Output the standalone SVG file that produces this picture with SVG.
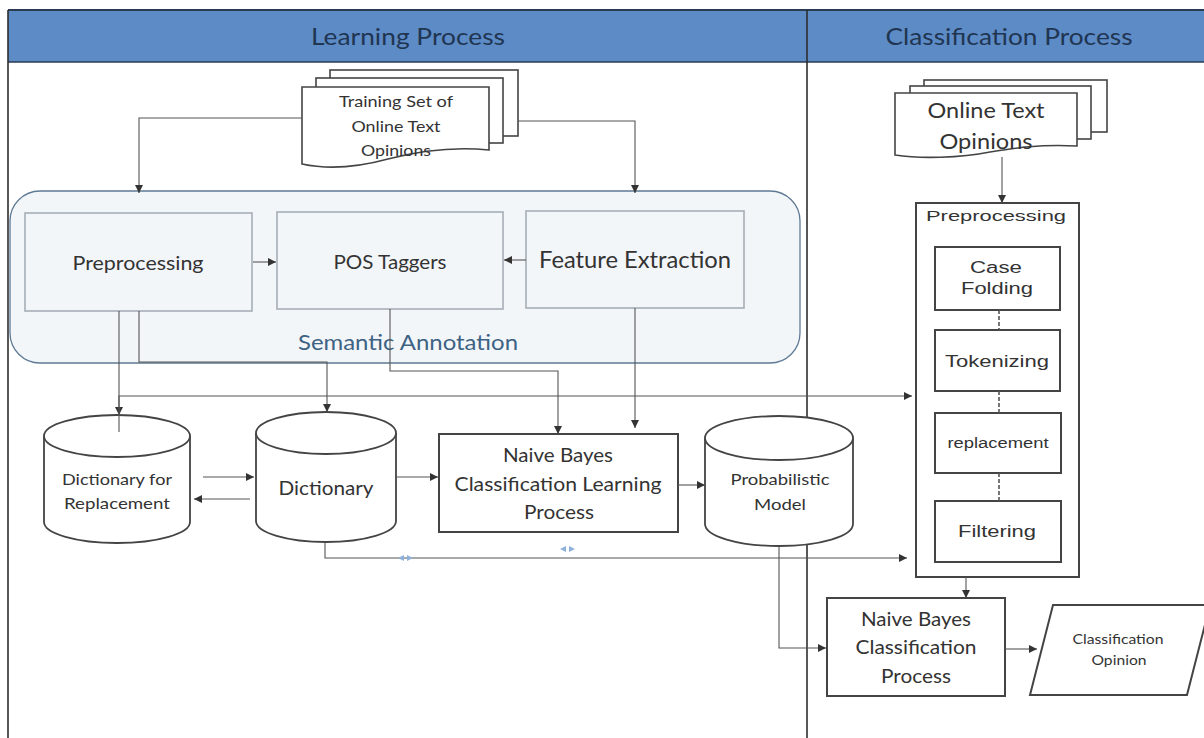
<svg xmlns="http://www.w3.org/2000/svg" width="1204" height="738" viewBox="0 0 1204 738">
  <defs>
    <marker id="arr" viewBox="0 0 10 10" refX="10" refY="5" markerWidth="8" markerHeight="8" markerUnits="userSpaceOnUse" orient="auto">
      <path d="M0,0 L10,5 L0,10 Z" fill="#333"/>
    </marker>
    <style>
      .cal { font-family: Lato, "Open Sans", "Liberation Sans", sans-serif; fill: #333; text-anchor: middle; }
      .ari { font-family: "Liberation Sans", Arial, sans-serif; fill: #333; text-anchor: middle; }
      .lane { stroke: #2e2e2e; stroke-width: 1.6; fill: none; }
      .sbox { fill: #f3f6f9; stroke: #a6aeb7; stroke-width: 1.6; }
      .box { fill: #ffffff; stroke: #444; stroke-width: 2; }
      .doc { fill: #ffffff; stroke: #444; stroke-width: 1.6; }
      .cyl { fill: #ffffff; stroke: #444; stroke-width: 1.8; }
      .con { fill: none; stroke: #555; stroke-width: 1.1; }
      .dash { fill: none; stroke: #555; stroke-width: 1.6; stroke-dasharray: 4 2; }
      .tick { fill: #8fb0d8; }
    </style>
  </defs>

  <rect x="0" y="0" width="1204" height="738" fill="#ffffff"/>

  <!-- swimlane headers and frame -->
  <g id="lanes">
    <rect x="8" y="10" width="1196" height="52" fill="#5d8bc6"/>
    <line x1="8" y1="10" x2="1204" y2="10" stroke="#2b3b52" stroke-width="2"/>
    <line x1="8" y1="62" x2="1204" y2="62" stroke="#2b3b52" stroke-width="1.5"/>
    <line class="lane" x1="8" y1="10" x2="8" y2="738"/>
    <line class="lane" x1="807" y1="10" x2="807" y2="738"/>
    <text class="cal" x="408" y="45" font-size="24" fill="#1f3552" style="fill:#1f3552" textLength="194" lengthAdjust="spacingAndGlyphs">Learning Process</text>
    <text class="cal" x="1009" y="45" font-size="24" style="fill:#1f3552" textLength="247" lengthAdjust="spacingAndGlyphs">Classification Process</text>
  </g>

  <!-- semantic annotation container -->
  <g id="semantic-annotation">
    <rect x="10" y="191" width="790" height="172" rx="30" ry="30" fill="#f3f6f9" stroke="#5f7a94" stroke-width="1.3"/>
    <text class="cal" x="408" y="350" font-size="21" style="fill:#3d6284" textLength="220" lengthAdjust="spacingAndGlyphs">Semantic Annotation</text>
  </g>

  <g id="preprocessing-learn">
    <rect class="sbox" x="25" y="213" width="227" height="98"/>
    <text class="cal" x="138" y="270" font-size="19" textLength="131" lengthAdjust="spacingAndGlyphs">Preprocessing</text>
  </g>

  <g id="pos-taggers">
    <rect class="sbox" x="277" y="212" width="226" height="97"/>
    <text class="cal" x="390" y="269" font-size="19" textLength="113" lengthAdjust="spacingAndGlyphs">POS Taggers</text>
  </g>

  <g id="feature-extraction">
    <rect class="sbox" x="526" y="211" width="218" height="97"/>
    <text class="cal" x="635" y="268" font-size="23" textLength="192" lengthAdjust="spacingAndGlyphs">Feature Extraction</text>
  </g>

  <!-- stacked documents: training set -->
  <g id="training-set">
    <rect class="doc" x="330" y="70" width="188" height="66"/>
    <rect class="doc" x="316" y="78" width="187" height="65"/>
    <path class="doc" d="M302,87 H489 V150 C450,146 415,152 388,159 C355,168 325,169 302,164 Z"/>
    <text class="cal" x="396" y="107" font-size="16" textLength="114" lengthAdjust="spacingAndGlyphs">Training Set of</text>
    <text class="cal" x="396" y="132" font-size="16" textLength="89" lengthAdjust="spacingAndGlyphs">Online Text</text>
    <text class="cal" x="396" y="156" font-size="16" textLength="70" lengthAdjust="spacingAndGlyphs">Opinions</text>
  </g>

  <!-- stacked documents: online opinions -->
  <g id="online-opinions">
    <rect class="doc" x="924" y="80" width="183" height="52"/>
    <rect class="doc" x="910" y="86" width="181" height="53"/>
    <path class="doc" d="M895,93 H1077 V146 C1040,144 1015,148 990,152 C960,158 920,159 895,155 Z"/>
    <text class="cal" x="986" y="118" font-size="22" textLength="117" lengthAdjust="spacingAndGlyphs">Online Text</text>
    <text class="cal" x="986" y="149" font-size="22" textLength="93" lengthAdjust="spacingAndGlyphs">Opinions</text>
  </g>

  <g id="dictionary-replacement">
    <path class="cyl" d="M44,436 A73,21 0 0 1 190,436 V522 A73,21 0 0 1 44,522 Z"/>
    <path class="cyl" d="M44,436 A73,21 0 0 0 190,436" fill="none"/>
    <text class="cal" x="117" y="485" font-size="16" textLength="110" lengthAdjust="spacingAndGlyphs">Dictionary for</text>
    <text class="cal" x="117" y="509" font-size="16" textLength="106" lengthAdjust="spacingAndGlyphs">Replacement</text>
  </g>

  <g id="dictionary">
    <path class="cyl" d="M256,433 A70,21 0 0 1 396,433 V521 A70,21 0 0 1 256,521 Z"/>
    <path class="cyl" d="M256,433 A70,21 0 0 0 396,433" fill="none"/>
    <text class="cal" x="326" y="495" font-size="19" textLength="95" lengthAdjust="spacingAndGlyphs">Dictionary</text>
  </g>

  <g id="nb-learning">
    <rect class="box" x="439" y="434" width="239" height="98"/>
    <text class="cal" x="558" y="462" font-size="19" textLength="110" lengthAdjust="spacingAndGlyphs">Naive Bayes</text>
    <text class="cal" x="558" y="491" font-size="19" textLength="207" lengthAdjust="spacingAndGlyphs">Classification Learning</text>
    <text class="cal" x="559" y="519" font-size="19" textLength="70" lengthAdjust="spacingAndGlyphs">Process</text>
  </g>

  <g id="probabilistic-model">
    <path class="cyl" d="M705,438 A74,22 0 0 1 853,438 V524 A74,22 0 0 1 705,524 Z"/>
    <path class="cyl" d="M705,438 A74,22 0 0 0 853,438" fill="none"/>
    <text class="cal" x="780" y="485" font-size="16" textLength="99" lengthAdjust="spacingAndGlyphs">Probabilistic</text>
    <text class="cal" x="780" y="510" font-size="16" textLength="52" lengthAdjust="spacingAndGlyphs">Model</text>
  </g>

  <!-- preprocessing pipeline of the classification side -->
  <g id="preprocessing-classify">
    <rect class="box" x="916" y="203" width="163" height="374"/>
    <text class="ari" x="996" y="221" font-size="15" textLength="140" lengthAdjust="spacingAndGlyphs">Preprocessing</text>
  </g>
  <g id="case-folding">
    <rect class="box" x="935" y="247" width="125" height="63"/>
    <text class="ari" x="996" y="273" font-size="16" textLength="52" lengthAdjust="spacingAndGlyphs">Case</text>
    <text class="ari" x="997" y="294" font-size="16" textLength="72" lengthAdjust="spacingAndGlyphs">Folding</text>
  </g>
  <g id="tokenizing">
    <rect class="box" x="935" y="330" width="125" height="61"/>
    <text class="ari" x="997" y="367" font-size="16" textLength="104" lengthAdjust="spacingAndGlyphs">Tokenizing</text>
  </g>
  <g id="replacement">
    <rect class="box" x="935" y="413" width="126" height="60"/>
    <text class="ari" x="998" y="448" font-size="14" textLength="101" lengthAdjust="spacingAndGlyphs">replacement</text>
  </g>
  <g id="filtering">
    <rect class="box" x="935" y="501" width="126" height="61"/>
    <text class="ari" x="997" y="537" font-size="16" textLength="78" lengthAdjust="spacingAndGlyphs">Filtering</text>
  </g>

  <g id="nb-classification">
    <rect class="box" x="827" y="598" width="178" height="98"/>
    <text class="cal" x="916" y="626" font-size="19" textLength="110" lengthAdjust="spacingAndGlyphs">Naive Bayes</text>
    <text class="cal" x="916" y="654" font-size="19" textLength="121" lengthAdjust="spacingAndGlyphs">Classification</text>
    <text class="cal" x="916" y="683" font-size="19" textLength="70" lengthAdjust="spacingAndGlyphs">Process</text>
  </g>

  <g id="classification-opinion">
    <polygon class="box" points="1053,605 1210,605 1187,695 1030,695"/>
    <text class="cal" x="1118" y="644" font-size="14" textLength="91" lengthAdjust="spacingAndGlyphs">Classification</text>
    <text class="cal" x="1119" y="665" font-size="14" textLength="55" lengthAdjust="spacingAndGlyphs">Opinion</text>
  </g>

  <!-- connectors -->
  <g id="connectors">
    <path class="con" d="M302,118 H139 V193" marker-end="url(#arr)"/>
    <path class="con" d="M518,121 H635 V193" marker-end="url(#arr)"/>
    <path class="con" d="M253,262 H276" marker-end="url(#arr)"/>
    <path class="con" d="M526,260 H504" marker-end="url(#arr)"/>
    <path class="con" d="M119,311 V415" marker-end="url(#arr)"/>
    <path class="con" d="M119,432 V396 H912" marker-end="url(#arr)"/>
    <path class="con" d="M139,311 V362 H327 V412" marker-end="url(#arr)"/>
    <path class="con" d="M390,309 V371 H558 V434" marker-end="url(#arr)"/>
    <path class="con" d="M635,308 V428" marker-end="url(#arr)"/>
    <path class="con" d="M203,477 H254" marker-end="url(#arr)"/>
    <path class="con" d="M250,499 H194" marker-end="url(#arr)"/>
    <path class="con" d="M396,477 H438" marker-end="url(#arr)"/>
    <path class="con" d="M678,485 H705" marker-end="url(#arr)"/>
    <path class="con" d="M325,542 V558 H907" marker-end="url(#arr)"/>
    <path class="con" d="M779,546 V648 H826" marker-end="url(#arr)"/>
    <path class="con" d="M966,577 V598" marker-end="url(#arr)"/>
    <path class="con" d="M1005,649 H1037" stroke-width="2" marker-end="url(#arr)"/>
    <path class="con" d="M1002,157 V203" marker-end="url(#arr)"/>
    <path class="dash" d="M999,310 V330"/>
    <path class="dash" d="M999,391 V413"/>
    <path class="dash" d="M999,473 V501"/>
    <!-- small blue handle marks on the lower connector -->
    <path class="tick" d="M398,558 L404,555 L404,561 Z M413,558 L407,555 L407,561 Z"/>
    <path class="tick" d="M560,549 L566,546 L566,552 Z M575,549 L569,546 L569,552 Z"/>
  </g>
</svg>
